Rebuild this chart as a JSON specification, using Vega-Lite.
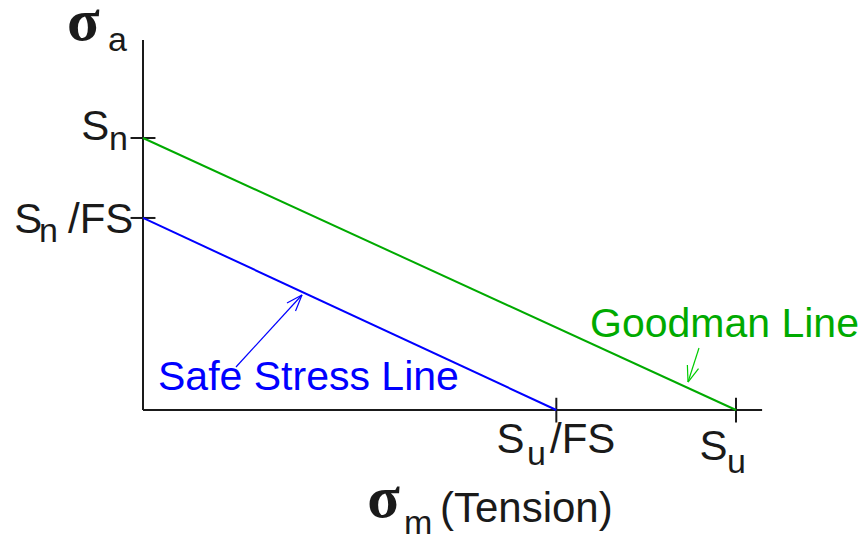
{
  "$schema": "https://vega.github.io/schema/vega-lite/v6.json",
  "width": 858,
  "height": 536,
  "autosize": "none",
  "padding": 0,
  "background": "white",
  "config": {"view": {"stroke": null}},
  "datasets": {
    "segs": [
      {"kind": "axis", "x": 0, "y": 0, "x2": 0, "y2": 136.0},
      {"kind": "axis", "x": 0, "y": 0, "x2": 104.4, "y2": 0},
      {"kind": "axis", "x": -2.1, "y": 100, "x2": 2.1, "y2": 100},
      {"kind": "axis", "x": -2.1, "y": 70.6, "x2": 2.1, "y2": 70.6},
      {"kind": "axis", "x": 69.7, "y": 4.5, "x2": 69.7, "y2": -4.6},
      {"kind": "axis", "x": 100, "y": 4.5, "x2": 100, "y2": -4.6},
      {"kind": "goodman", "x": 0, "y": 100, "x2": 100, "y2": 0},
      {"kind": "safe", "x": 0, "y": 70.6, "x2": 69.7, "y2": 0},
      {"kind": "arrowBlue", "x": 15.68, "y": 15.81, "x2": 26.81, "y2": 42.28},
      {"kind": "arrowBlue", "x": 26.81, "y": 42.28, "x2": 24.28, "y2": 39.34},
      {"kind": "arrowBlue", "x": 26.81, "y": 42.28, "x2": 25.72, "y2": 36.4},
      {"kind": "arrowGreen", "x": 93.76, "y": 22.79, "x2": 91.91, "y2": 10.29},
      {"kind": "arrowGreen", "x": 91.91, "y": 10.29, "x2": 93.68, "y2": 15.22},
      {"kind": "arrowGreen", "x": 91.91, "y": 10.29, "x2": 91.8, "y2": 16.54}
    ],
    "labels": [
      {"style": "sigma", "x": -12.8, "y": 136.0, "label": "σ"},
      {"style": "sub", "x": -5.9, "y": 132.0, "label": "a"},
      {"style": "main", "x": -10.4, "y": 99.26, "label": "S"},
      {"style": "sub", "x": -5.75, "y": 95.6, "label": "n"},
      {"style": "main", "x": -21.7, "y": 65.07, "label": "S"},
      {"style": "sub", "x": -17.55, "y": 61.76, "label": "n"},
      {"style": "main", "x": -12.65, "y": 65.07, "label": "/FS"},
      {"style": "main", "x": 59.6, "y": -15.81, "label": "S"},
      {"style": "sub", "x": 64.75, "y": -20.22, "label": "u"},
      {"style": "main", "x": 68.63, "y": -15.81, "label": "/FS"},
      {"style": "main", "x": 93.83, "y": -18.38, "label": "S"},
      {"style": "sub", "x": 98.5, "y": -23.16, "label": "u"},
      {"style": "sigma", "x": 37.8, "y": -39.34, "label": "σ"},
      {"style": "sub", "x": 44.0, "y": -45.5, "label": "m"},
      {"style": "main", "x": 50.08, "y": -41.18, "label": "(Tension)"},
      {"style": "green", "x": 75.38, "y": 26.84, "label": "Goodman Line"},
      {"style": "blue", "x": 2.53, "y": 7.35, "label": "Safe Stress Line"}
    ]
  },
  "encoding": {
    "x": {"field": "x", "type": "quantitative", "scale": {"domain": [-24.115, 120.573], "nice": false, "zero": false}, "axis": null},
    "y": {"field": "y", "type": "quantitative", "scale": {"domain": [-46.324, 150.735], "nice": false, "zero": false}, "axis": null}
  },
  "layer": [
    {
      "data": {"name": "segs"},
      "transform": [{"filter": "datum.kind === 'axis'"}],
      "mark": {"type": "rule", "color": "#1a1a1a", "strokeWidth": 2},
      "encoding": {"x2": {"field": "x2"}, "y2": {"field": "y2"}}
    },
    {
      "data": {"name": "segs"},
      "transform": [{"filter": "datum.kind === 'goodman'"}],
      "mark": {"type": "rule", "color": "#00aa00", "strokeWidth": 2},
      "encoding": {"x2": {"field": "x2"}, "y2": {"field": "y2"}}
    },
    {
      "data": {"name": "segs"},
      "transform": [{"filter": "datum.kind === 'safe'"}],
      "mark": {"type": "rule", "color": "#0000ff", "strokeWidth": 2},
      "encoding": {"x2": {"field": "x2"}, "y2": {"field": "y2"}}
    },
    {
      "data": {"name": "segs"},
      "transform": [{"filter": "datum.kind === 'arrowBlue'"}],
      "mark": {"type": "rule", "color": "#0000ff", "strokeWidth": 1.2},
      "encoding": {"x2": {"field": "x2"}, "y2": {"field": "y2"}}
    },
    {
      "data": {"name": "segs"},
      "transform": [{"filter": "datum.kind === 'arrowGreen'"}],
      "mark": {"type": "rule", "color": "#00cc00", "strokeWidth": 1.2},
      "encoding": {"x2": {"field": "x2"}, "y2": {"field": "y2"}}
    },
    {
      "data": {"name": "labels"},
      "transform": [{"filter": "datum.style === 'main'"}],
      "mark": {"type": "text", "align": "left", "baseline": "alphabetic", "font": "Liberation Sans", "fontSize": 42, "color": "#1a1a1a"},
      "encoding": {"text": {"field": "label"}}
    },
    {
      "data": {"name": "labels"},
      "transform": [{"filter": "datum.style === 'sub'"}],
      "mark": {"type": "text", "align": "left", "baseline": "alphabetic", "font": "Liberation Sans", "fontSize": 34, "color": "#1a1a1a"},
      "encoding": {"text": {"field": "label"}}
    },
    {
      "data": {"name": "labels"},
      "transform": [{"filter": "datum.style === 'sigma'"}],
      "mark": {"type": "text", "align": "left", "baseline": "alphabetic", "font": "Liberation Serif", "fontWeight": "bold", "fontSize": 60, "color": "#1a1a1a"},
      "encoding": {"text": {"field": "label"}}
    },
    {
      "data": {"name": "labels"},
      "transform": [{"filter": "datum.style === 'green'"}],
      "mark": {"type": "text", "align": "left", "baseline": "alphabetic", "font": "Liberation Sans", "fontSize": 41, "color": "#00aa00"},
      "encoding": {"text": {"field": "label"}}
    },
    {
      "data": {"name": "labels"},
      "transform": [{"filter": "datum.style === 'blue'"}],
      "mark": {"type": "text", "align": "left", "baseline": "alphabetic", "font": "Liberation Sans", "fontSize": 41, "color": "#0000ff"},
      "encoding": {"text": {"field": "label"}}
    }
  ]
}
